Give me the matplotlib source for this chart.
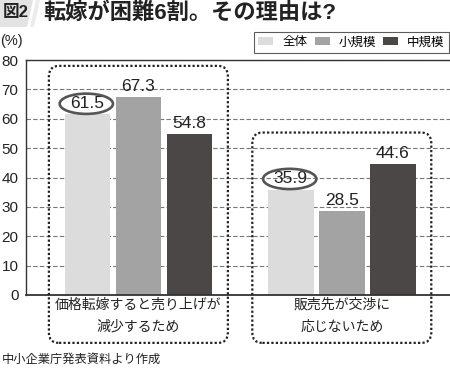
import matplotlib

matplotlib.use("Agg")
import matplotlib.pyplot as plt
import numpy as np
from matplotlib.patches import Ellipse, FancyBboxPatch, Polygon

plt.rcParams["font.family"] = ["Liberation Sans", "Noto Sans CJK JP"]

# data
title_tag = "図2"
title = "転嫁が困難6割。その理由は?"
unit_label = "(%)"
source_note = "中小企業庁発表資料より作成"
categories = ["価格転嫁すると売り上げが\n減少するため", "販売先が交渉に\n応じないため"]
series_names = ["全体", "小規模", "中規模"]
zentai = [61.5, 35.9]
shokibo = [67.3, 28.5]
chukibo = [54.8, 44.6]
circled_series = "全体"
yticks = [0, 10, 20, 30, 40, 50, 60, 70, 80]

colors = ["#dcdcdc", "#a3a3a3", "#4b4747"]
ink = "#222222"

W, H = 450, 370
fig = plt.figure(figsize=(W / 100, H / 100), dpi=100)


def fx(px):
    return px / W


def fy(py):
    return 1 - py / H


ax = fig.add_axes([fx(25.5), fy(295), fx(450) - fx(25.5), fy(60) - fy(295)])

x = np.arange(len(categories))
pitch, width = 0.251, 0.224
label_off = 3.6
series = [zentai, shokibo, chukibo]
for i, (name, vals, c) in enumerate(zip(series_names, series, colors)):
    xs = x + (i - 1) * pitch
    ax.bar(xs, vals, width, color=c, label=name, zorder=2)
    for xi, v in zip(xs, vals):
        ax.text(xi, v + label_off, f"{v:.1f}", ha="center", va="center",
                fontsize=12.5, color=ink, zorder=4)
        if name == circled_series:
            ax.add_patch(Ellipse((xi - 0.005, v + label_off), 0.262, 6.9, fill=False,
                                 ec="#555555", lw=1.9, zorder=4))

ax.set_xlim(-0.555, 1.532)
ax.set_ylim(0, 80)
ax.set_yticks(yticks)
ax.set_xticks(x, categories)
ax.tick_params(axis="y", length=0, pad=5, labelsize=11, labelcolor=ink)
ax.tick_params(axis="x", length=0, pad=2, labelsize=10, labelcolor=ink)
for lab in ax.get_xticklabels():
    lab.set_linespacing(1.75)
ax.yaxis.grid(True, ls=(0, (4, 2)), color="#777777", lw=0.8)
ax.set_axisbelow(True)
ax.spines["right"].set_visible(False)
for s in ("left", "top", "bottom"):
    ax.spines[s].set_color("#333333")
    ax.spines[s].set_linewidth(1.0)
ax.spines["bottom"].set_linewidth(1.3)

# dotted rounded frames round each group
x_per_px = (1.532 + 0.555) / (450 - 25.5)
y_per_px = 80 / (295 - 60)
for xi, group_max in zip(x, np.max(series, axis=0)):
    left, right = xi - 0.44, xi + 0.44
    bottom, top = -16.3, group_max + 10.7
    ax.add_patch(FancyBboxPatch((left, bottom), right - left, top - bottom,
                                boxstyle="round,pad=0,rounding_size=0.05",
                                mutation_aspect=y_per_px / x_per_px,
                                fill=False, ec=ink, lw=1.6, ls=(0, (1, 1)),
                                clip_on=False, zorder=5))

leg = fig.legend(loc="upper right", bbox_to_anchor=(fx(449), fy(32)), ncol=3,
                 fontsize=9, frameon=True, fancybox=False, edgecolor="#333333",
                 handlelength=1.2, handleheight=0.5, handletextpad=0.7,
                 columnspacing=0.6, borderpad=0.35, borderaxespad=0)
leg.get_frame().set_linewidth(0.8)

# title tab
fig.patches.append(Polygon([(fx(0), fy(0)), (fx(33), fy(0)), (fx(27), fy(27)), (fx(0), fy(27))],
                           closed=True, transform=fig.transFigure, fc="#e3e3e3", ec="none"))
fig.patches.append(Polygon([(fx(36), fy(0)), (fx(40), fy(0)), (fx(34), fy(27)), (fx(30), fy(27))],
                           closed=True, transform=fig.transFigure, fc="#ececec", ec="none"))
fig.text(fx(3), fy(13), title_tag, fontsize=12, fontweight="bold", color=ink, va="center")
fig.text(fx(43), fy(13), title, fontsize=16, fontweight="bold", color=ink, va="center")
fig.text(fx(0), fy(41), unit_label, fontsize=10.5, color=ink, va="center")
fig.text(fx(2), fy(360), source_note, fontsize=8.8, color=ink, va="center")

fig.savefig("out.png", dpi=100)
